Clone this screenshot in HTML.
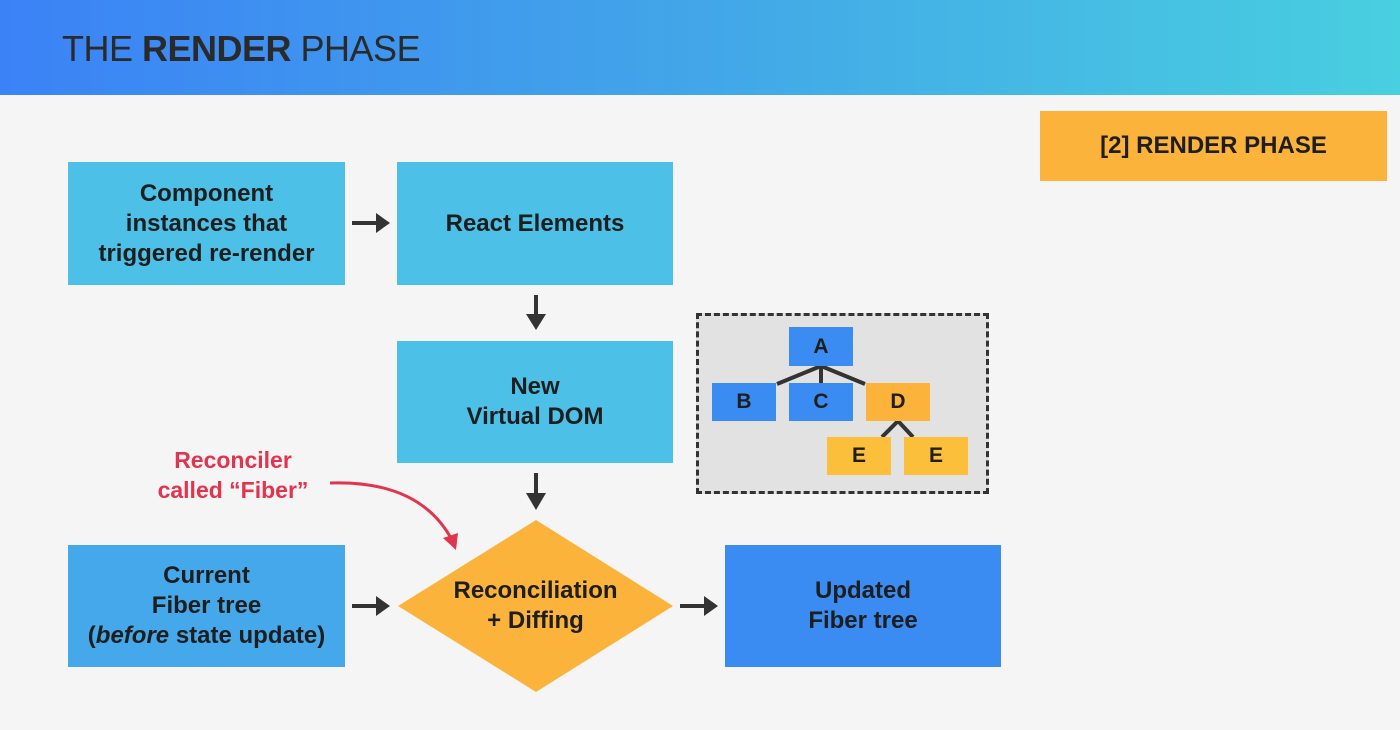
<!DOCTYPE html>
<html><head><style>
body{margin:0;width:1400px;height:730px;background:#f5f5f5;position:relative;overflow:hidden;font-family:"Liberation Sans",sans-serif}
.hd{position:absolute;left:0;top:0;width:1400px;height:95px;background:linear-gradient(90deg,#3b82f6,#42a6e8 50%,#48cfe0)}
.t{position:absolute;left:62px;top:28px;font-size:36px;color:#2a2a2a;letter-spacing:-0.5px}
.b{position:absolute;display:flex;align-items:center;justify-content:center;text-align:center;font-weight:bold;font-size:24px;color:#1e1e1e;line-height:30px}
.n{position:absolute;display:flex;align-items:center;justify-content:center;font-weight:bold;font-size:21px;color:#1e1e1e}
</style></head><body>
<div class="hd"></div>
<div class="t">THE <b>RENDER</b> PHASE</div>
<div class="b" style="left:1040px;top:111px;width:347px;height:70px;background:#fbb33b"><span>[2] RENDER PHASE</span></div>
<div class="b" style="left:68px;top:162px;width:277px;height:123px;background:#4cc0e6"><span>Component<br>instances that<br>triggered re-render</span></div>
<div class="b" style="left:397px;top:162px;width:276px;height:123px;background:#4cc0e6"><span>React Elements</span></div>
<div class="b" style="left:397px;top:341px;width:276px;height:122px;background:#4cc0e6"><span>New<br>Virtual DOM</span></div>
<div class="b" style="left:68px;top:545px;width:277px;height:122px;background:#45a8ea"><span>Current<br>Fiber tree<br>(<i>before</i> state update)</span></div>
<div class="b" style="left:725px;top:545px;width:276px;height:122px;background:#3b8cf2"><span>Updated<br>Fiber tree</span></div>
<div style="position:absolute;left:696px;top:313px;width:287px;height:175px;background:#e2e2e2;border:3px dashed #333"></div>
<svg style="position:absolute;left:0;top:0" width="1400" height="730">
<polygon points="398,606 536,520 673,606 536,692" fill="#fbb33b"/>
<g stroke="#333" stroke-width="4" fill="none">
<line x1="352" y1="223" x2="378" y2="223"/><line x1="352" y1="606" x2="378" y2="606"/><line x1="680" y1="606" x2="706" y2="606"/>
<line x1="536" y1="295" x2="536" y2="316"/><line x1="536" y1="473" x2="536" y2="495"/>
<line x1="777" y1="384" x2="821" y2="366"/><line x1="821" y1="366" x2="821" y2="383"/><line x1="821" y1="366" x2="865" y2="384"/>
<line x1="882" y1="437" x2="898" y2="421"/><line x1="898" y1="421" x2="913" y2="437"/>
</g>
<g fill="#333">
<polygon points="376,213 390,223 376,233"/><polygon points="376,596 390,606 376,616"/><polygon points="704,596 718,606 704,616"/>
<polygon points="526,314 536,330 546,314"/><polygon points="526,493 536,510 546,493"/>
</g>
<path d="M330,483 Q420,480 452,540" stroke="#e0344f" stroke-width="3" fill="none"/>
<polygon points="443,538 456,550 458,533" fill="#e0344f"/>
</svg>
<div class="b" style="left:398px;top:562px;width:275px;height:88px"><span>Reconciliation<br>+ Diffing</span></div>
<div class="b" style="left:120px;top:445px;width:226px;height:60px;color:#e0344f;font-size:23px"><span>Reconciler<br>called “Fiber”</span></div>
<div class="n" style="left:789px;top:327px;width:64px;height:39px;background:#3b8cf2">A</div>
<div class="n" style="left:712px;top:383px;width:64px;height:38px;background:#3b8cf2">B</div>
<div class="n" style="left:789px;top:383px;width:64px;height:38px;background:#3b8cf2">C</div>
<div class="n" style="left:866px;top:383px;width:64px;height:38px;background:#fbb33b">D</div>
<div class="n" style="left:827px;top:437px;width:64px;height:38px;background:#fbbf3b">E</div>
<div class="n" style="left:904px;top:437px;width:64px;height:38px;background:#fbbf3b">E</div>
</body></html>
